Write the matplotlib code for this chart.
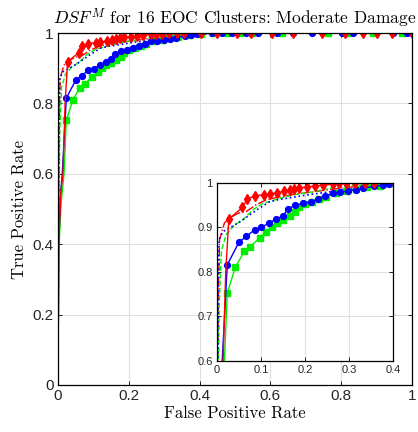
import matplotlib
matplotlib.use("Agg")
import matplotlib.pyplot as plt

plt.rcParams['mathtext.fontset'] = 'cm'
plt.rcParams['font.family'] = 'Liberation Sans'

# ROC curves (FPR, TPR)
red_fpr = [0, 0.002, 0.008, 0.014, 0.020, 0.027, 0.058, 0.069, 0.086, 0.107, 0.120, 0.137,
           0.152, 0.165, 0.176, 0.186, 0.205, 0.222, 0.240, 0.264, 0.277, 0.294, 0.314,
           0.336, 0.356, 0.404, 0.449, 0.506, 0.545, 0.605, 0.664, 0.746, 0.81, 0.862,
           0.90, 0.943, 1.0]
red_tpr = [0, 0.40, 0.55, 0.60, 0.80, 0.918, 0.944, 0.963, 0.970, 0.973, 0.974, 0.977,
           0.980, 0.983, 0.986, 0.988, 0.990, 0.992, 0.994, 0.996, 0.998, 0.998, 0.999,
           1, 1, 1, 1, 1, 1, 1, 1, 1, 1, 1, 1, 1, 1]

green_fpr = [0, 0.002, 0.009, 0.017, 0.0235, 0.042, 0.062, 0.076, 0.097, 0.112, 0.125,
             0.136, 0.150, 0.165, 0.177, 0.186, 0.200, 0.217, 0.233, 0.249, 0.271, 0.294,
             0.317, 0.340, 0.370, 0.404, 0.438, 0.477, 0.514, 0.548, 0.633, 0.763, 0.819,
             0.89, 0.972, 1.0]
green_tpr = [0, 0.38, 0.52, 0.60, 0.752, 0.810, 0.845, 0.856, 0.876, 0.889, 0.900, 0.909,
             0.915, 0.924, 0.933, 0.944, 0.951, 0.957, 0.963, 0.968, 0.976, 0.981, 0.985,
             0.989, 0.993, 0.998, 1, 1, 1, 1, 1, 1, 1, 1, 1, 1]

blue_fpr = [0, 0.002, 0.007, 0.012, 0.0235, 0.050, 0.067, 0.086, 0.101, 0.118, 0.135,
            0.150, 0.161, 0.177, 0.195, 0.213, 0.230, 0.246, 0.264, 0.279, 0.298, 0.317,
            0.332, 0.358, 0.377, 0.392, 0.435, 0.463, 0.491, 0.531, 0.565, 0.618, 0.663,
            0.717, 0.802, 0.833, 0.946, 0.985, 1.0]
blue_tpr = [0, 0.40, 0.54, 0.60, 0.815, 0.866, 0.879, 0.894, 0.899, 0.909, 0.918, 0.925,
            0.940, 0.949, 0.953, 0.957, 0.962, 0.970, 0.976, 0.978, 0.981, 0.984, 0.987,
            0.992, 0.994, 0.997, 1, 1, 1, 1, 1, 1, 1, 1, 1, 1, 1, 1, 1]

red2_fpr = [0, 0.001, 0.003, 0.006, 0.017, 0.029, 0.048, 0.067, 0.089, 0.112, 0.142,
            0.180, 0.218, 0.256, 0.294, 0.340, 0.400, 0.45, 1.0]
red2_tpr = [0, 0.45, 0.75, 0.872, 0.909, 0.920, 0.931, 0.935, 0.950, 0.961, 0.968,
            0.974, 0.979, 0.984, 0.989, 0.993, 0.996, 1, 1]

green2_fpr = [0, 0.002, 0.005, 0.010, 0.021, 0.040, 0.059, 0.082, 0.105, 0.135, 0.173,
              0.218, 0.256, 0.309, 0.370, 0.400, 0.45, 1.0]
green2_tpr = [0, 0.45, 0.72, 0.846, 0.883, 0.905, 0.916, 0.939, 0.953, 0.962, 0.972,
              0.979, 0.987, 0.994, 0.996, 0.997, 1, 1]

blue2_fpr = [0, 0.001, 0.003, 0.005, 0.014, 0.029, 0.048, 0.070, 0.093, 0.120, 0.142,
             0.180, 0.218, 0.256, 0.294, 0.340, 0.400, 0.45, 1.0]
blue2_tpr = [0, 0.45, 0.75, 0.872, 0.890, 0.898, 0.909, 0.924, 0.940, 0.957, 0.962,
             0.968, 0.974, 0.979, 0.984, 0.990, 0.995, 1, 1]

main_ticks = [0, 0.2, 0.4, 0.6, 0.8, 1]
main_labels = ['0', '0.2', '0.4', '0.6', '0.8', '1']
inset_xticks = [0, 0.1, 0.2, 0.3, 0.4]
inset_xlabels = ['0', '0.1', '0.2', '0.3', '0.4']
inset_yticks = [0.6, 0.7, 0.8, 0.9, 1]
inset_ylabels = ['0.6', '0.7', '0.8', '0.9', '1']

RED, GREEN, BLUE = '#ff0000', '#00ee00', '#0000ff'


def draw_curves(ax, ms):
    ax.plot(red2_fpr, red2_tpr, '-.', color=RED, lw=1.0)
    ax.plot(green2_fpr, green2_tpr, '--', color=GREEN, lw=1.0)
    ax.plot(blue2_fpr, blue2_tpr, ':', color=BLUE, lw=1.2)
    ax.plot(green_fpr, green_tpr, '-', color=GREEN, lw=1.0, marker='s', ms=ms,
            markevery=list(range(4, len(green_fpr) - 1)))
    ax.plot(blue_fpr, blue_tpr, '-', color=BLUE, lw=1.0, marker='o', ms=ms,
            markevery=list(range(4, len(blue_fpr))))
    ax.plot(red_fpr, red_tpr, '-', color=RED, lw=1.0, marker='d', ms=ms + 0.5,
            markevery=list(range(5, len(red_fpr))))


def style(ax, fs):
    ax.grid(True, color='#e0e0e0', lw=0.8)
    ax.set_axisbelow(True)
    ax.tick_params(direction='in', top=True, right=True, length=3,
                   width=0.6, labelsize=fs, pad=3, labelcolor='#262626')
    for s in ax.spines.values():
        s.set_linewidth(0.9)


fig = plt.figure(figsize=(4.18, 4.32), dpi=100)
ax = fig.add_axes([0.1388, 0.1088, 0.8469, 0.8148])
draw_curves(ax, 4.2)
ax.set_xlim(0, 1)
ax.set_ylim(0, 1)
ax.set_xticks(main_ticks)
ax.set_xticklabels(main_labels)
ax.set_yticks(main_ticks)
ax.set_yticklabels(main_labels)
style(ax, 11)
ax.set_xlabel('False Positive Rate', family='cmr10', fontsize=12, labelpad=2)
ax.set_ylabel('True Positive Rate', family='cmr10', fontsize=12, labelpad=4)
ax.set_title(r'$DSF^M$ for 16 EOC Clusters: Moderate Damage', family='cmr10',
             fontsize=12.5, pad=6)

axi = fig.add_axes([0.519, 0.1655, 0.421, 0.412])
axi.set_facecolor('white')
draw_curves(axi, 4.2)
axi.set_xlim(0, 0.4)
axi.set_ylim(0.6, 1)
axi.set_xticks(inset_xticks)
axi.set_xticklabels(inset_xlabels)
axi.set_yticks(inset_yticks)
axi.set_yticklabels(inset_ylabels)
style(axi, 8)

fig.savefig('out.png', dpi=100)
